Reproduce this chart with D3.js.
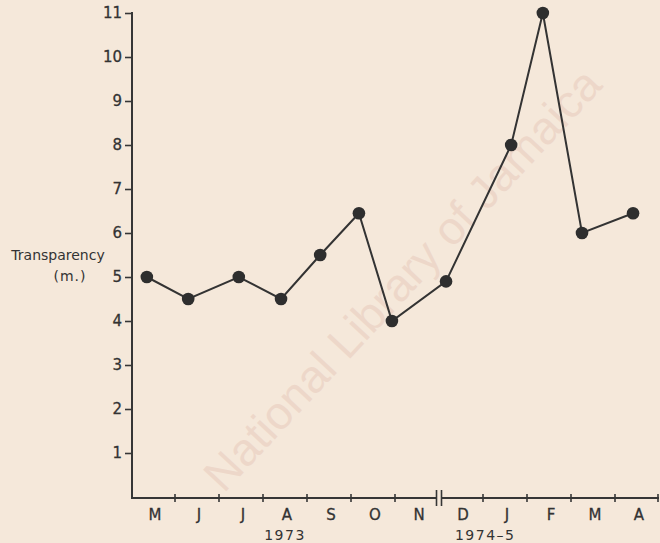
<!DOCTYPE html>
<html>
<head>
<meta charset="utf-8">
<script src="https://cdn.jsdelivr.net/npm/d3@7"></script>
<style>
  html, body { margin: 0; padding: 0; background: #f5e8da; }
  svg { display: block; }
  text { font-family: "DejaVu Sans", "Liberation Sans", sans-serif; fill: #333; }
</style>
</head>
<body>
<script>
// ---- data ----
const months = ["M", "J", "J", "A", "S", "O", "N", "D", "J", "F", "M", "A"];
const yearLabels = ["1973", "1974\u20135"];
const sampleMonthPos = [0.36, 1.30, 2.45, 3.41, 4.30, 5.18, 5.93, 7.16, 8.64, 9.36, 10.25, 11.41];
const transparency = [5.0, 4.5, 5.0, 4.5, 5.5, 6.45, 4.0, 4.9, 8.0, 11.0, 6.0, 6.45];
const yTicks = [1, 2, 3, 4, 5, 6, 7, 8, 9, 10, 11];

const W = 660, H = 543;
const bg = "#f5e8da";
const svg = d3.select("body").append("svg").attr("width", W).attr("height", H);

// faint watermark
svg.append("text")
  .attr("transform", "translate(405,282) rotate(-47)")
  .attr("text-anchor", "middle")
  .attr("dominant-baseline", "middle")
  .style("font-family", "'Liberation Sans', sans-serif")
  .style("font-size", "46px")
  .style("fill", "#ebd2c4")
  .style("fill-opacity", 0.75)
  .text("National Library of Jamaica");

const x = d3.scaleLinear().domain([0, 12]).range([131, 659]);
const y = d3.scaleLinear().domain([0, 11]).range([497, 13]);

const ink = "#363636";

// y axis
const yAxis = d3.axisLeft(y).tickValues(yTicks).tickSize(7).tickSizeOuter(0).tickPadding(3);
const gy = svg.append("g").attr("transform", `translate(${x(0) + 1},0)`).call(yAxis);
gy.attr("font-family", null).attr("font-size", null);
gy.select(".domain").remove();
gy.selectAll(".tick line").attr("stroke", ink).attr("stroke-width", 1.6);
gy.selectAll(".tick text").style("font-size", "15px").style("fill", "#333")
  .style("stroke", "#333").style("stroke-width", "0.3px");
svg.append("line")
  .attr("x1", x(0) + 1).attr("x2", x(0) + 1)
  .attr("y1", y(11) - 1).attr("y2", y(0) + 1)
  .attr("stroke", ink).attr("stroke-width", 2);

// x axis
const xb = y(0) + 1;
svg.append("line")
  .attr("x1", x(0)).attr("x2", x(12))
  .attr("y1", xb).attr("y2", xb)
  .attr("stroke", ink).attr("stroke-width", 2);
const tickIdx = d3.range(1, 13).filter(i => i !== 7);
svg.selectAll(".xt").data(tickIdx).enter().append("line")
  .attr("x1", d => x(d) - (d === 12 ? 1 : 0)).attr("x2", d => x(d) - (d === 12 ? 1 : 0))
  .attr("y1", xb - 4).attr("y2", xb + 4)
  .attr("stroke", ink).attr("stroke-width", 1.6);
// axis break
svg.append("rect").attr("x", x(7) - 2).attr("y", xb - 3).attr("width", 5).attr("height", 6).attr("fill", bg);
[-2.5, 2.5].forEach(o => {
  svg.append("line")
    .attr("x1", x(7) + o).attr("x2", x(7) + o)
    .attr("y1", xb - 8).attr("y2", xb + 8)
    .attr("stroke", ink).attr("stroke-width", 1.6);
});

// month labels
svg.selectAll(".ml").data(months).enter().append("text")
  .attr("x", (d, i) => x(i + 0.5) + 2)
  .attr("y", 520)
  .attr("text-anchor", "middle")
  .style("font-size", "15px")
  .style("stroke", "#333").style("stroke-width", "0.3px")
  .text(d => d);

// year labels
svg.append("text").attr("x", x(3.5)).attr("y", 540).attr("text-anchor", "middle")
  .style("font-size", "14px").style("letter-spacing", "1.5px").text(yearLabels[0]);
svg.append("text").attr("x", x(8.05)).attr("y", 540).attr("text-anchor", "middle")
  .style("font-size", "14px").style("letter-spacing", "1.5px").text(yearLabels[1]);

// y title
svg.append("text").attr("x", 58).attr("y", 260).attr("text-anchor", "middle")
  .style("font-size", "14px").text("Transparency");
svg.append("text").attr("x", 70).attr("y", 281).attr("text-anchor", "middle")
  .style("font-size", "14px").style("letter-spacing", "1px").text("(m.)");

// line + dots
const pts = sampleMonthPos.map((m, i) => [m, transparency[i]]);
svg.append("path")
  .datum(pts)
  .attr("fill", "none")
  .attr("stroke", "#333")
  .attr("stroke-width", 2)
  .attr("d", d3.line().x(d => x(d[0])).y(d => y(d[1])));
svg.selectAll(".pt").data(pts).enter().append("circle")
  .attr("cx", d => x(d[0])).attr("cy", d => y(d[1]))
  .attr("r", 6.3)
  .attr("fill", "#2e2e2e");
</script>
</body>
</html>
